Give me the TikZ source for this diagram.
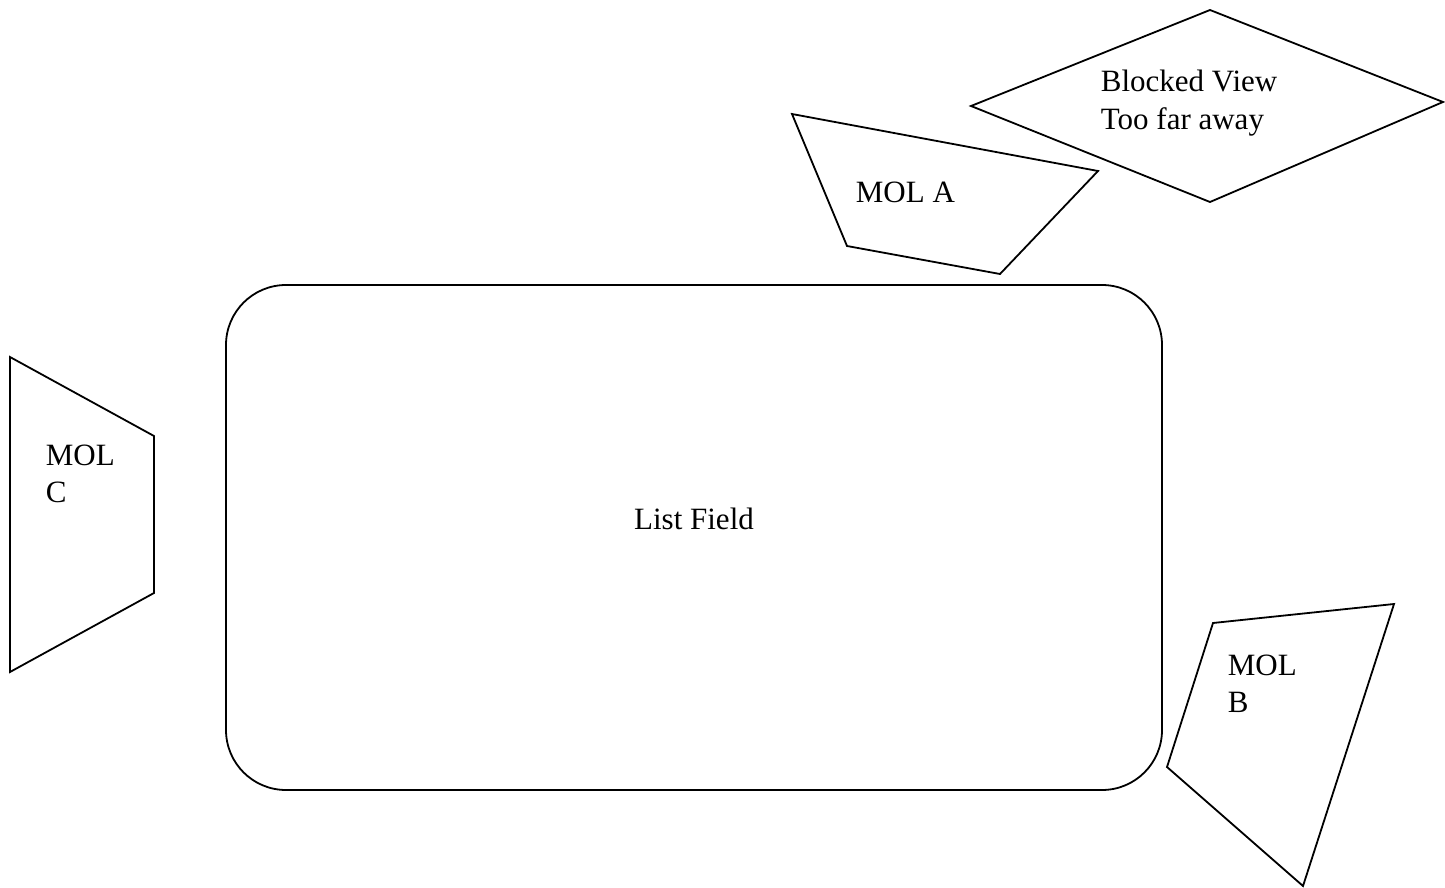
\documentclass[tikz,border=0pt]{standalone}
\usepackage{fontspec}
\setmainfont{Liberation Serif}
\usepackage{tikz}

\tikzset{label text/.style={inner sep=0pt, anchor=base west, align=left,
  font=\fontsize{31}{37}\selectfont}}

\begin{document}
\begin{tikzpicture}[x=1pt,y=-1pt,line width=1.8pt,line join=miter]
\useasboundingbox (0,0) rectangle (1445,888);
% list field
\draw[rounded corners=60pt] (226,285) rectangle (1162,790);
\node [label text, anchor=base] (field) at (694,529) {List Field};
% blocked view
\draw (971,106) -- (1210,10) -- (1443,102) -- (1210,202) -- cycle;
\node [label text] (blocked) at (1100,129) {Blocked View\\Too far away};
% MOL A
\draw (792,114) -- (1098,171) -- (1000,274) -- (847,246) -- cycle;
\node [label text] (mola) at (855,202) {MOL A};
% MOL B
\draw (1213,623) -- (1394,604) -- (1303,886) -- (1167,767) -- cycle;
\node [label text] (molb) at (1227,712) {MOL\\B};
% MOL C
\draw (10,357) -- (154,436) -- (154,593) -- (10,672) -- cycle;
\node [label text] (molc) at (45,502) {MOL\\C};
\end{tikzpicture}
\end{document}
